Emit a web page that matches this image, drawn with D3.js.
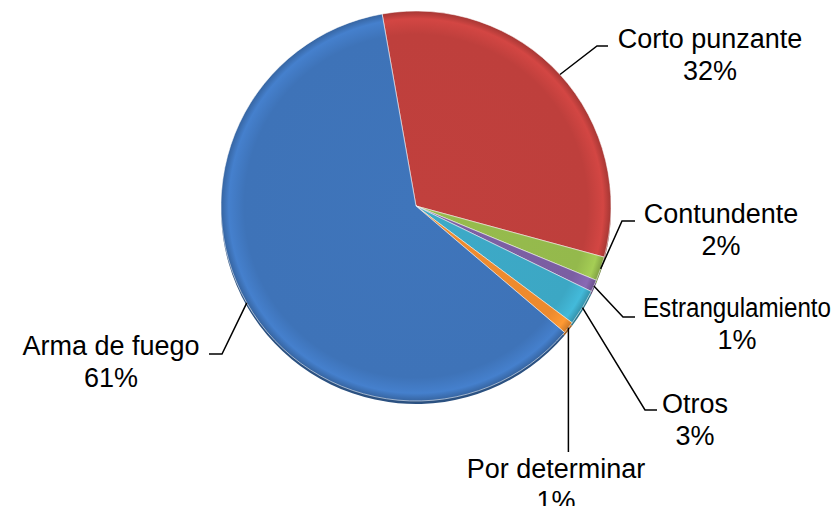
<!DOCTYPE html>
<html>
<head>
	<meta charset="utf-8">
	<title></title>
	<script src="https://cdn.jsdelivr.net/npm/d3@7"></script>
	<style>
		body { margin: 0; background: #fff; }
		text {
			font-family: "Liberation Sans", Arial, sans-serif;
			font-size: 27px;
			fill: #000;
			text-anchor: middle;
		}
	</style>
</head>
<body>
	<svg id="piechart" width="840" height="506"></svg>

	<script type="text/javascript">
		// data
		var categories = ["Corto punzante", "Contundente", "Estrangulamiento", "Otros", "Por determinar", "Arma de fuego"];
		var values = [32, 2, 1, 3, 1, 61];
		var pctLabels = ["32%", "2%", "1%", "3%", "1%", "61%"];
		var colors = ["#be3f3c", "#94b94c", "#7b5ea2", "#3ca7c4", "#ec8a2e", "#3e73b8"];

		// label layout: text centre/baseline, leader elbow, end of the short horizontal
		var labelLayout = [
			{tx: 710, ty: 48, ex: 597, ey: 46, hx: 608},
			{tx: 721, ty: 223, ex: 622, ey: 221, hx: 635},
			{tx: 737, ty: 317, ex: 623, ey: 317, hx: 635, fit: 188},
			{tx: 695, ty: 413, ex: 645, ey: 410, hx: 657},
			{tx: 556, ty: 478, ex: null, ey: 452, hx: null},
			{tx: 111, ty: 355, ex: 222, ey: 354, hx: 209}
		];

		function drawPieChart(){
			var svg = d3.select("svg");
			var cx = 416, cy = 206, radius = 195;
			var start = -10 * Math.PI / 180;

			var data = categories.map(function(c, i){
				return {name: c, value: values[i], pct: pctLabels[i], color: colors[i], layout: labelLayout[i]};
			});

			var pie = d3.pie()
				.sort(null)
				.startAngle(start)
				.endAngle(start + 2 * Math.PI)
				.value(function(d){ return d.value; });

			var arcs = pie(data);

			var arc = d3.arc().innerRadius(0).outerRadius(radius);

			var defs = svg.append("defs");
			data.forEach(function(d, i){
				var base = d3.color(d.color);
				var g = defs.append("radialGradient")
					.attr("id", "grad" + i)
					.attr("gradientUnits", "userSpaceOnUse")
					.attr("cx", 0).attr("cy", 0).attr("r", radius)
					.attr("fx", 0).attr("fy", 0);
				g.append("stop").attr("offset", "0%").attr("stop-color", base.brighter(0.05));
				g.append("stop").attr("offset", "88%").attr("stop-color", base);
				g.append("stop").attr("offset", "96%").attr("stop-color", base.brighter(0.3));
				g.append("stop").attr("offset", "100%").attr("stop-color", base.darker(0.4));
			});

			var chart = svg.append("g")
				.attr("transform", "translate(" + cx + "," + cy + ")");

			// thin side of the 3d pie
			chart.selectAll("path.side")
				.data(arcs)
				.enter()
				.append("path")
				.attr("class", "side")
				.attr("transform", "translate(0,3)")
				.attr("fill", function(d){ return d3.color(d.data.color).darker(1); })
				.attr("d", arc);

			chart.selectAll("path.slice")
				.data(arcs)
				.enter()
				.append("path")
				.attr("class", "slice")
				.attr("fill", function(d, i){ return "url(#grad" + i + ")"; })
				.attr("stroke", "#ffffff")
				.attr("stroke-opacity", 0.55)
				.attr("stroke-width", 1)
				.attr("d", arc);

			// leader lines and labels
			arcs.forEach(function(a){
				var L = a.data.layout;
				var mid = (a.startAngle + a.endAngle) / 2;
				var sx = cx + radius * Math.sin(mid);
				var sy = cy - radius * Math.cos(mid);
				var pts;
				if (L.ex === null) {
					pts = [[sx, sy], [sx, L.ey]];
				} else {
					pts = [[sx, sy], [L.ex, L.ey], [L.hx, L.ey]];
				}
				svg.append("path")
					.attr("d", d3.line()(pts))
					.attr("fill", "none")
					.attr("stroke", "#000")
					.attr("stroke-width", 1.5);

				var t1 = svg.append("text")
					.attr("x", L.tx)
					.attr("y", L.ty)
					.text(a.data.name);
				if (L.fit) {
					t1.attr("textLength", L.fit).attr("lengthAdjust", "spacingAndGlyphs");
				}
				svg.append("text")
					.attr("x", L.tx)
					.attr("y", L.ty + 32)
					.text(a.data.pct);
			});
		}
		drawPieChart();
	</script>
</body>
</html>
